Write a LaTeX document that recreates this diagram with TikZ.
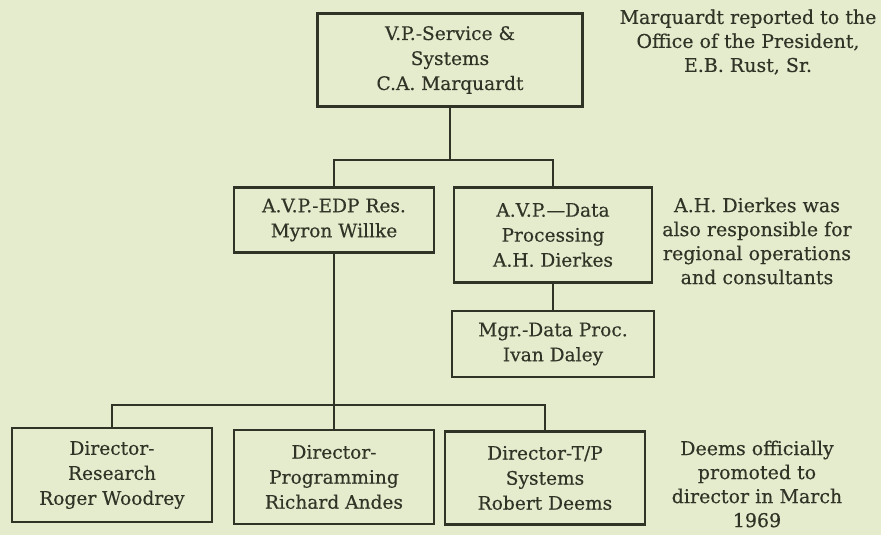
\documentclass[tikz,border=0pt]{standalone}
\usepackage{fontspec}
\setmainfont[FakeBold=0.4]{DejaVu Serif}
\definecolor{paper}{RGB}{229,236,206}
\definecolor{ink}{RGB}{48,52,38}
\tikzset{
  post/.style={draw=ink, line width=2.1pt, text=ink, align=center, inner sep=0pt,
    font=\fontsize{18.6}{25}\selectfont},
  note/.style={text=ink, align=center, inner sep=0pt,
    font=\fontsize{19}{24}\selectfont},
  link/.style={draw=ink, line width=2.1pt}
}
\begin{document}
\begin{tikzpicture}[x=1pt, y=-1pt]
    % Paper
    \fill[paper] (0,0) rectangle (881,535);
    \useasboundingbox (0,0) rectangle (881,535);

    % Vice president
    \node[post, minimum width=265pt, minimum height=93pt] (vp) at (450,60)
        {V.P.-Service \&\\Systems\\C.A. Marquardt};

    % Assistant vice presidents
    \node[post, minimum width=200pt, minimum height=65pt] (edp) at (334,220)
        {A.V.P.-EDP Res.\\Myron Willke};
    \node[post, minimum width=198pt, minimum height=95pt] (data) at (553,235)
        {A.V.P.---Data\\Processing\\A.H. Dierkes};

    % Manager
    \node[post, minimum width=202pt, minimum height=66pt] (mgr) at (553,344)
        {Mgr.-Data Proc.\\Ivan Daley};

    % Directors
    \node[post, minimum width=200pt, minimum height=94pt] (res) at (112,475)
        {Director-\\Research\\Roger Woodrey};
    \node[post, minimum width=200pt, minimum height=94pt] (prog) at (334,477)
        {Director-\\Programming\\Richard Andes};
    \node[post, minimum width=200pt, minimum height=93pt] (tp) at (545,478)
        {Director-T/P\\Systems\\Robert Deems};

    % Notes
    \node[note] (notevp) at (748,42)
        {Marquardt reported to the\\Office of the President,\\E.B. Rust, Sr.};
    \node[note] (notedata) at (757,241)
        {A.H. Dierkes was\\also responsible for\\regional operations\\and consultants};
    \node[note] (notetp) at (757,484)
        {Deems officially\\promoted to\\director in March\\1969};

    % Connectors
    \coordinate (bartop) at (450,160);
    \coordinate (barlow) at (334,405);
    \draw[link] (vp) -- (bartop);
    \draw[link] (edp.north) |- (bartop) -| (data.north);
    \draw[link] (data) -- (mgr);
    \draw[link] (edp) -- (prog);
    \draw[link] (res.north) |- (barlow) -| (tp.north);
\end{tikzpicture}
\end{document}
